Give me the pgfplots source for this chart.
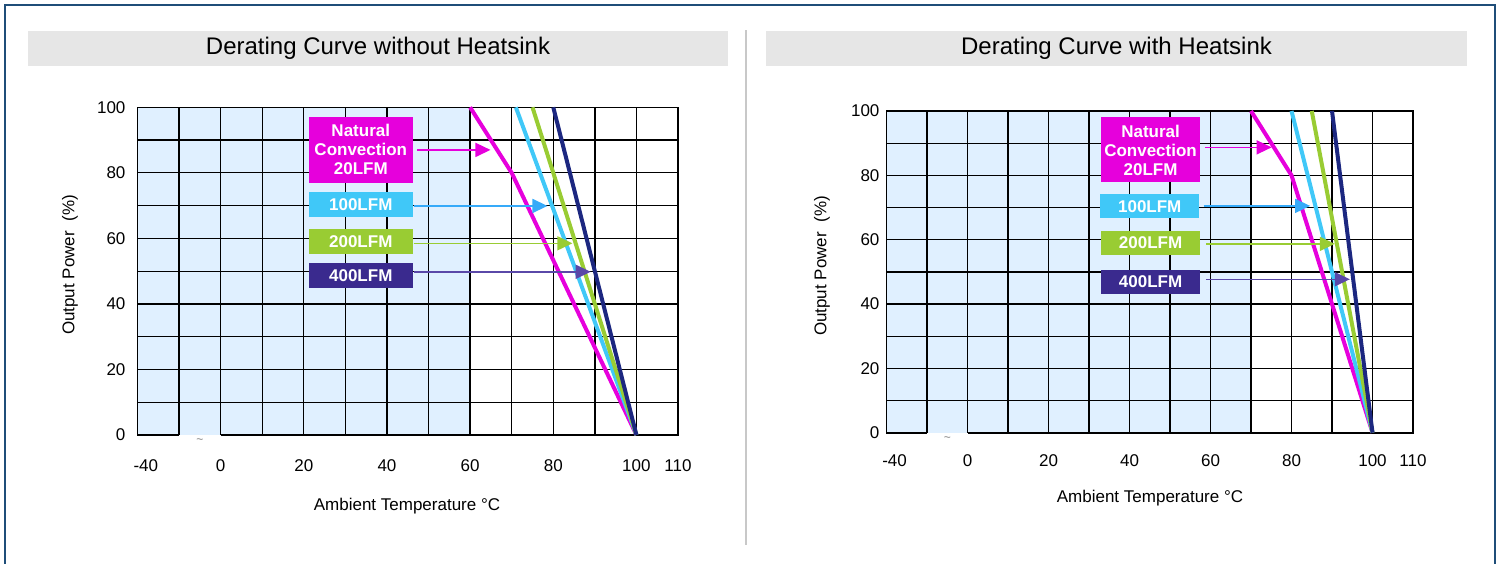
\documentclass[border=0pt]{standalone}
\usepackage{fontspec}
\setmainfont{Liberation Sans}
\usepackage{pgfplots}
\pgfplotsset{compat=1.18}
\usetikzlibrary{arrows.meta}

\definecolor{frameblue}{HTML}{1F4E79}
\definecolor{titlegray}{HTML}{E6E6E6}
\definecolor{sepgray}{HTML}{C8C8C8}
\definecolor{bgblue}{HTML}{E0F0FF}
\definecolor{natmag}{HTML}{E600DC}
\definecolor{lfmcyan}{HTML}{40C8F8}
\definecolor{lfmgreen}{HTML}{99CC33}
\definecolor{lfmnavy}{HTML}{1C2780}
\definecolor{boxpurple}{HTML}{3A2A8E}
\definecolor{arrpurple}{HTML}{5A48A8}

\pgfplotsset{
  derating/.style={
    scale only axis, anchor=south west,
    xmin=-20, xmax=110, ymin=0, ymax=100,
    axis line style={draw=none},
    xtick={-18,0,20,40,60,80,100,110},
    xticklabels={-40,0,20,40,60,80,100,110},
    ytick={0,20,...,100},
    yticklabels={0,20,40,60,80,100},
    minor xtick={-10,0,10,20,30,40,50,60,70,80,90,100},
    minor ytick={10,20,30,40,50,60,70,80,90},
    xmajorgrids=false, ymajorgrids=false,
    xminorgrids=true, yminorgrids=true,
    minor grid style={black, line width=0.65pt},
    major tick length=0pt, minor tick length=0pt,
    tick label style={font=\fontsize{8.5}{10}\selectfont},
    set layers, clip=false,
  },
  curve/.style={line width=2pt, line join=round, mark=none},
}
\tikzset{
  lbl/.style={text=white, font=\bfseries\fontsize{8.5}{9.5}\selectfont,
    align=center, inner sep=0pt},
  arr/.style={line width=0.75pt, -{Triangle[length=7.5pt,width=7pt]}},
}

\begin{document}
\begin{tikzpicture}
\begin{scope}
\clip (0,0) rectangle (749.5pt,-281.5pt);
\draw[frameblue, line width=1pt] (2.5pt,-2.5pt) rectangle (747.5pt,-290pt);
\end{scope}

% title bars
\fill[titlegray] (14pt,-15.5pt) rectangle (364pt,-33pt);
\node[font=\fontsize{12}{14}\selectfont] at (189pt,-24.25pt) {Derating Curve without Heatsink};
\fill[titlegray] (383pt,-15.5pt) rectangle (733.5pt,-33pt);
\node[font=\fontsize{12}{14}\selectfont] at (558.25pt,-24.25pt) {Derating Curve with Heatsink};
\draw[sepgray, line width=0.6pt] (373pt,-15pt) -- (373pt,-272.5pt);

% axis titles
\node[rotate=90, font=\fontsize{8.5}{10}\selectfont] at (35pt,-132.5pt) {Output Power\ \ (\%)};
\node[font=\fontsize{8.5}{10}\selectfont] at (203.5pt,-253pt) {Ambient Temperature °C};
\node[rotate=90, font=\fontsize{8.5}{10}\selectfont] at (411pt,-133pt) {Output Power\ \ (\%)};
\node[font=\fontsize{8.5}{10}\selectfont] at (575pt,-249pt) {Ambient Temperature °C};

% ---- without heatsink
\begin{axis}[derating,
  at={(68.75pt,-217.5pt)}, width=270.25pt, height=163.85pt,
  xticklabel style={yshift=-8.7pt},
  yticklabel style={xshift=-2.5pt},
]
\begin{pgfonlayer}{axis background}
\fill[bgblue] (axis cs:-20,0) rectangle (axis cs:60,100);
\end{pgfonlayer}
\draw[black, line width=0.8pt] (axis cs:-10,0) -- (axis cs:-20,0) -- (axis cs:-20,100) -- (axis cs:110,100) -- (axis cs:110,0) -- (axis cs:0,0);
\node[gray, font=\fontsize{6}{6}\selectfont] at (axis cs:-5,-2) {\textasciitilde};

\addplot[curve, natmag] coordinates {(60,100) (70,80) (100,0)};
\addplot[curve, lfmcyan] coordinates {(71,100) (100,0)};
\addplot[curve, lfmgreen] coordinates {(75,100) (100,0)};
\addplot[curve, lfmnavy] coordinates {(80,100) (100,0)};

\node[lbl, fill=natmag, minimum width=52pt, minimum height=33pt] at (axis cs:33.7,87.1) {Natural\\Convection\\20LFM};
\node[lbl, fill=lfmcyan, minimum width=52pt, minimum height=12.5pt] at (axis cs:33.7,70.2) {100LFM};
\node[lbl, fill=lfmgreen, minimum width=52pt, minimum height=12.5pt] at (axis cs:33.7,58.9) {200LFM};
\node[lbl, fill=boxpurple, minimum width=52pt, minimum height=12.5pt] at (axis cs:33.7,48.7) {400LFM};
\draw[arr, natmag] (axis cs:47.3,87) -- (axis cs:64.9,87);
\draw[arr, lfmcyan!85!blue] (axis cs:46.4,69.9) -- (axis cs:78.6,69.9);
\draw[arr, lfmgreen] (axis cs:46.4,58.5) -- (axis cs:84.6,58.5);
\draw[arr, arrpurple] (axis cs:46.4,49.8) -- (axis cs:89,49.8);
\end{axis}

% ---- with heatsink
\begin{axis}[derating,
  at={(443.25pt,-216.35pt)}, width=263.25pt, height=160.85pt,
  xticklabel style={yshift=-7.4pt},
]
\begin{pgfonlayer}{axis background}
\fill[bgblue] (axis cs:-20,0) rectangle (axis cs:70,100);
\end{pgfonlayer}
\draw[black, line width=0.8pt] (axis cs:-10,0) -- (axis cs:-20,0) -- (axis cs:-20,100) -- (axis cs:110,100) -- (axis cs:110,0) -- (axis cs:0,0);
\node[gray, font=\fontsize{6}{6}\selectfont] at (axis cs:-5,-2) {\textasciitilde};

\addplot[curve, natmag] coordinates {(70,100) (75,90) (80,80) (100,0)};
\addplot[curve, lfmcyan] coordinates {(80,100) (100,0)};
\addplot[curve, lfmgreen] coordinates {(85,100) (100,0)};
\addplot[curve, lfmnavy] coordinates {(90,100) (100,0)};

\node[lbl, fill=natmag, minimum width=49.5pt, minimum height=32.5pt] at (axis cs:45.2,87.9) {Natural\\Convection\\20LFM};
\node[lbl, fill=lfmcyan, minimum width=49.5pt, minimum height=12.2pt] at (axis cs:45,70.4) {100LFM};
\node[lbl, fill=lfmgreen, minimum width=49.5pt, minimum height=12.2pt] at (axis cs:45.2,59) {200LFM};
\node[lbl, fill=boxpurple, minimum width=49.5pt, minimum height=12.2pt] at (axis cs:45.2,46.9) {400LFM};
\draw[arr, natmag] (axis cs:58.6,88.7) -- (axis cs:75.1,88.7);
\draw[arr, lfmcyan!85!blue] (axis cs:58.3,70.5) -- (axis cs:84.6,70.5);
\draw[arr, lfmgreen] (axis cs:59,58.7) -- (axis cs:90.7,58.7);
\draw[arr, arrpurple] (axis cs:59,47.7) -- (axis cs:94.4,47.7);
\end{axis}

\pgfresetboundingbox
\path[use as bounding box] (0,0) rectangle (749.5pt,-281.5pt);
\end{tikzpicture}
\end{document}
